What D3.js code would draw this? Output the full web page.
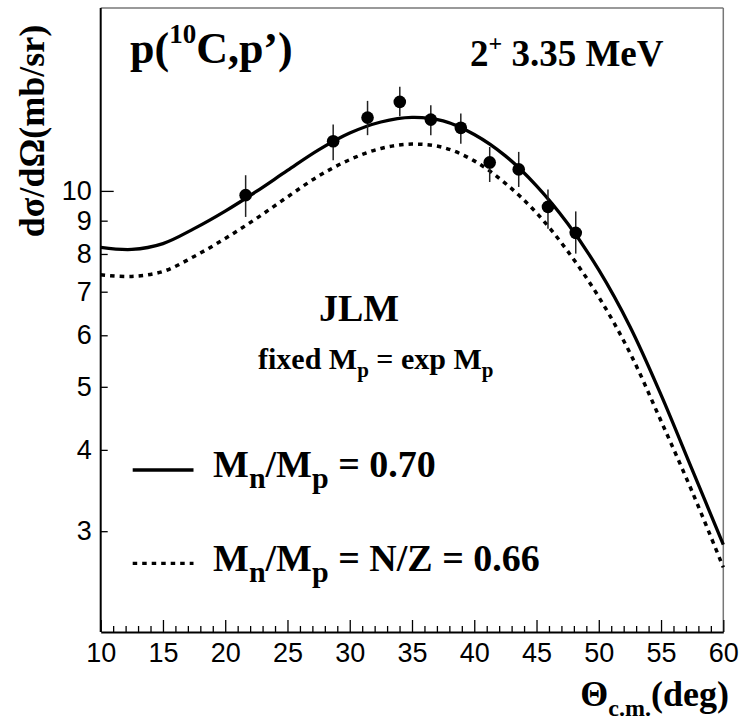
<!DOCTYPE html>
<html>
<head>
<meta charset="utf-8">
<script src="https://cdn.jsdelivr.net/npm/d3@7"></script>
<style>
  html, body { margin: 0; padding: 0; background: #fff; }
  svg { display: block; }
  .serif { font-family: "Liberation Serif", "DejaVu Serif", serif; font-weight: bold; fill: #000; }
  .tick text { font-family: "Liberation Sans", Arial, sans-serif; font-size: 27px; fill: #000; }
</style>
</head>
<body>
<svg id="chart" width="743" height="722"></svg>
<script>
// Measured 2+ (3.35 MeV) cross sections: angle (deg), value and error-bar limits (mb/sr)
const dataAngle = [21.64, 28.67, 31.43, 34.02, 36.51, 38.92, 41.24, 43.57, 45.92, 48.15];
const dataValue = [9.85, 11.92, 12.96, 13.70, 12.87, 12.50, 11.06, 10.79, 9.45, 8.62];
const dataLow   = [9.12, 11.15, 12.18, 13.02, 12.18, 11.82, 10.32, 10.14, 8.75, 8.01];
const dataHigh  = [10.57, 12.65, 13.75, 14.45, 13.54, 13.15, 11.68, 11.48, 10.05, 9.30];

// Angles at which the JLM calculations are tabulated (deg)
const calcAngle = [10, 12.5, 15, 17.5, 20, 22.5, 25, 27.5, 30, 32.5, 35, 37.5, 40, 42.5, 45, 47.5, 50, 52.5, 55, 57.5, 60];
// JLM, Mn/Mp = 0.70 (solid)
const solidValue = [8.19, 8.13, 8.30, 8.75, 9.31, 9.98, 10.75, 11.56, 12.27, 12.76, 12.97, 12.81, 12.21, 11.32, 10.18, 8.91, 7.56, 6.19, 4.86, 3.73, 2.86];
// JLM, Mn/Mp = N/Z = 0.66 (dotted)
const dottedValue = [7.43, 7.39, 7.52, 7.93, 8.45, 9.07, 9.79, 10.54, 11.17, 11.62, 11.80, 11.66, 11.12, 10.27, 9.25, 8.08, 6.87, 5.64, 4.43, 3.45, 2.64];

// Axis ticks
const xMajorTicks = [10, 15, 20, 25, 30, 35, 40, 45, 50, 55, 60];
const yMajorTicks = [10];
const yMinorTicks = [3, 4, 5, 6, 7, 8, 9];

const svg = d3.select("#chart");
const plotLeft = 100.7, plotRight = 723.3, plotTop = 8, plotBottom = 632;

const x = d3.scaleLinear().domain([10, 60]).range([plotLeft, plotRight]);
const y = d3.scaleLog().domain([2.1, 19.1]).range([plotBottom, plotTop]);

// Frame: top and right edges in grey
svg.append("line").attr("x1", plotLeft).attr("x2", plotRight).attr("y1", plotTop).attr("y2", plotTop)
  .attr("stroke", "#777").attr("stroke-width", 1.5);
svg.append("line").attr("x1", plotRight).attr("x2", plotRight).attr("y1", plotTop).attr("y2", plotBottom)
  .attr("stroke", "#777").attr("stroke-width", 1.5);

// X axis: minor ticks every degree, major every 5 degrees, pointing inward
const xMinor = d3.range(11, 60).filter(d => d % 5 !== 0);
svg.append("g").attr("transform", `translate(0,${plotBottom})`)
  .call(d3.axisBottom(x).tickValues(xMinor).tickSizeInner(-6).tickSizeOuter(0).tickFormat(""))
  .call(g => g.select(".domain").remove())
  .call(g => g.selectAll("line").attr("stroke", "#000").attr("stroke-width", 1.3));
svg.append("g").attr("transform", `translate(0,${plotBottom})`)
  .call(d3.axisBottom(x).tickValues(xMajorTicks).tickSizeInner(-12).tickSizeOuter(0).tickPadding(11).tickFormat(d3.format("d")))
  .call(g => g.select(".domain").attr("stroke", "#000").attr("stroke-width", 2))
  .call(g => g.selectAll("line").attr("stroke", "#000").attr("stroke-width", 1.3));

// Y axis (log)
svg.append("g").attr("transform", `translate(${plotLeft},0)`)
  .call(d3.axisLeft(y).tickValues(yMinorTicks).tickSizeInner(-7).tickSizeOuter(0).tickPadding(9).tickFormat(d3.format("d")))
  .call(g => g.select(".domain").remove())
  .call(g => g.selectAll("line").attr("stroke", "#000").attr("stroke-width", 1.3));
svg.append("g").attr("transform", `translate(${plotLeft},0)`)
  .call(d3.axisLeft(y).tickValues(yMajorTicks).tickSizeInner(-13).tickSizeOuter(0).tickPadding(9).tickFormat(d3.format("d")))
  .call(g => g.select(".domain").attr("d", `M0,${plotBottom}V${plotTop}`).attr("stroke", "#000").attr("stroke-width", 2))
  .call(g => g.selectAll("line").attr("stroke", "#000").attr("stroke-width", 1.3));

// Theory curves
const line = d3.line().x(d => x(d[0])).y(d => y(d[1])).curve(d3.curveCatmullRom);
svg.append("path").datum(d3.zip(calcAngle, solidValue))
  .attr("d", line).attr("fill", "none").attr("stroke", "#000").attr("stroke-width", 3.3);
svg.append("path").datum(d3.zip(calcAngle, dottedValue))
  .attr("d", line).attr("fill", "none").attr("stroke", "#000").attr("stroke-width", 3.5)
  .attr("stroke-dasharray", "4.5,5");

// Data with error bars
const pts = dataAngle.map((a, i) => ({a, v: dataValue[i], lo: dataLow[i], hi: dataHigh[i]}));
svg.append("g").selectAll("line").data(pts).join("line")
  .attr("x1", d => x(d.a)).attr("x2", d => x(d.a))
  .attr("y1", d => y(d.lo)).attr("y2", d => y(d.hi))
  .attr("stroke", "#222").attr("stroke-width", 1.5);
svg.append("g").selectAll("circle").data(pts).join("circle")
  .attr("cx", d => x(d.a)).attr("cy", d => y(d.v)).attr("r", 6.3).attr("fill", "#000");

// Texts
const title = svg.append("text").attr("class", "serif").attr("x", 130).attr("y", 63).attr("font-size", 44);
title.append("tspan").text("p(");
title.append("tspan").attr("font-size", 27).attr("dy", -20).text("10");
title.append("tspan").attr("dy", 20).text("C,p’)");

const state = svg.append("text").attr("class", "serif").attr("x", 470).attr("y", 66).attr("font-size", 37);
state.append("tspan").text("2");
state.append("tspan").attr("font-size", 24).attr("dy", -15).text("+");
state.append("tspan").attr("dy", 15).text(" 3.35 MeV");

svg.append("text").attr("class", "serif")
  .attr("transform", "translate(44,131) rotate(-90)")
  .attr("text-anchor", "middle").attr("font-size", 36)
  .text("dσ/dΩ(mb/sr)");

const xl = svg.append("text").attr("class", "serif").attr("x", 729).attr("y", 706)
  .attr("text-anchor", "end").attr("font-size", 36);
xl.append("tspan").text("Θ");
xl.append("tspan").attr("font-size", 24).attr("dy", 10).text("c.m.");
xl.append("tspan").attr("dy", -10).text("(deg)");

svg.append("text").attr("class", "serif").attr("x", 359).attr("y", 321)
  .attr("text-anchor", "middle").attr("font-size", 38).text("JLM");

const fx = svg.append("text").attr("class", "serif").attr("x", 258).attr("y", 369).attr("font-size", 30);
fx.append("tspan").text("fixed M");
fx.append("tspan").attr("font-size", 21).attr("dy", 8).text("p");
fx.append("tspan").attr("dy", -8).text(" = exp M");
fx.append("tspan").attr("font-size", 21).attr("dy", 8).text("p");

// Legend
const legend = [
  {yLine: 470, yText: 477, dash: null, tail: " = 0.70"},
  {yLine: 563.3, yText: 571, dash: "4.5,5", tail: " = N/Z = 0.66"}
];
legend.forEach(l => {
  svg.append("line").attr("x1", 132.7).attr("x2", 193.5).attr("y1", l.yLine).attr("y2", l.yLine)
    .attr("stroke", "#000").attr("stroke-width", l.dash ? 3.3 : 3.5)
    .attr("stroke-dasharray", l.dash);
  const t = svg.append("text").attr("class", "serif").attr("x", 213).attr("y", l.yText).attr("font-size", 38);
  t.append("tspan").text("M");
  t.append("tspan").attr("font-size", 30).attr("dy", 11).text("n");
  t.append("tspan").attr("dy", -11).text("/M");
  t.append("tspan").attr("font-size", 30).attr("dy", 11).text("p");
  t.append("tspan").attr("dy", -11).text(l.tail);
});
</script>
</body>
</html>
